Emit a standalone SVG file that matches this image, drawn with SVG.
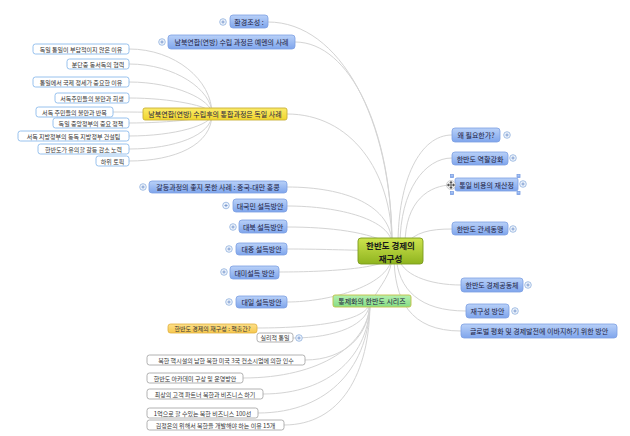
<svg xmlns="http://www.w3.org/2000/svg" xmlns:xlink="http://www.w3.org/1999/xlink" width="630" height="436" viewBox="0 0 630 436">
<defs>
<linearGradient id="gb" x1="0" y1="0" x2="0" y2="1"><stop offset="0" stop-color="#b9d1f8"/><stop offset="1" stop-color="#7fa5ec"/></linearGradient>
<linearGradient id="gc" x1="0" y1="0" x2="0" y2="1"><stop offset="0" stop-color="#cde34e"/><stop offset="1" stop-color="#8fb41f"/></linearGradient>
<linearGradient id="gy" x1="0" y1="0" x2="0" y2="1"><stop offset="0" stop-color="#fbeb6a"/><stop offset="1" stop-color="#f0d52c"/></linearGradient>
<linearGradient id="gg" x1="0" y1="0" x2="0" y2="1"><stop offset="0" stop-color="#b4f0b0"/><stop offset="1" stop-color="#86dc84"/></linearGradient>
<linearGradient id="go" x1="0" y1="0" x2="0" y2="1"><stop offset="0" stop-color="#fde08a"/><stop offset="1" stop-color="#f6c84e"/></linearGradient>
<g id="plus"><circle r="3.3" fill="#eef4fc" stroke="#8fb0dd" stroke-width="0.8"/><path d="M-1.6,0H1.6M0,-1.6V1.6" stroke="#6d8fca" stroke-width="0.8"/></g>
</defs>
<style>
text{font-family:"Noto Sans CJK KR","Noto Sans",sans-serif;font-size:7px;text-anchor:middle;dominant-baseline:central;fill:#1d2140}
.b rect{fill:url(#gb);stroke:#7c9fe2;stroke-width:0.8}
.w rect{fill:#fff;stroke:#8dbbec;stroke-width:0.9}
.g rect{fill:#fff;stroke:#a9a9a9;stroke-width:0.9}
.g text,.w text{fill:#333}
#conn path{fill:none;stroke:#d4d4d4;stroke-width:1}
</style>
<rect width="630" height="436" fill="#fff"/>
<g id="conn">
<path d="M268,22 C340,22 392,120 392,245"/>
<path d="M295,42 C350,42 392,130 392,245"/>
<path d="M287,114 C350,114 392,170 392,245"/>
<path d="M287,187 C345,187 392,205 392,245"/>
<path d="M287,206 C340,206 392,220 392,245"/>
<path d="M287,227 C330,227 370,232 392,245"/>
<path d="M287,249 C320,249 340,250 392,251"/>
<path d="M279,272 C330,272 392,268 392,255"/>
<path d="M287,302 C330,302 392,285 392,255"/>
<path d="M372,301 C380,285 392,275 392,255"/>
<path d="M452,135 C420,135 398,180 398,245"/>
<path d="M452,158 C425,158 400,190 400,245"/>
<path d="M452,185 C430,185 405,200 405,245"/>
<path d="M452,229 C430,229 415,232 405,245"/>
<path d="M461,285 C430,285 400,275 398,255"/>
<path d="M466,311 C420,311 398,290 396,255"/>
<path d="M461,331 C410,331 394,300 394,255"/>
<path d="M129,49 C175,49 212,80 212,114"/>
<path d="M129,64 C175,64 212,90 212,114"/>
<path d="M129,82 C175,82 212,100 212,114"/>
<path d="M129,98 C170,98 212,106 212,114"/>
<path d="M113,112 C160,112 190,113 212,114"/>
<path d="M129,123 C170,123 212,118 212,114"/>
<path d="M129,136 C175,136 212,125 212,114"/>
<path d="M129,149 C175,149 212,135 212,114"/>
<path d="M129,161 C175,161 212,145 212,114"/>
<path d="M257,328 C320,328 370,320 370,301"/>
<path d="M293,338 C335,338 370,325 370,301"/>
<path d="M305,360 C345,360 370,335 370,301"/>
<path d="M243,378 C320,378 370,345 370,301"/>
<path d="M263,394 C330,394 370,355 370,301"/>
<path d="M258,413 C330,413 370,365 370,301"/>
<path d="M284,425 C340,425 370,375 370,301"/>
</g>
<g id="n-center"><rect x="358" y="238" width="65" height="26" rx="3" fill="url(#gc)" stroke="#7c9b1d" stroke-width="0.9"/><text x="390.5" y="244.5" style="font-size:8.5px;font-weight:bold;fill:#1a1a1a">한반도 경제의</text><text x="390.5" y="257.5" style="font-size:8.5px;font-weight:bold;fill:#1a1a1a">재구성</text></g>
<g id="n1" class="b"><rect x="230" y="15" width="38" height="13" rx="3"/><text x="249" y="21.5">환경조성 :</text><use href="#plus" x="223" y="22"/></g>
<g id="n2" class="b"><rect x="168" y="35" width="127" height="14" rx="3"/><text x="231.5" y="42">남북연합(연방) 수립 과정은 예멘의 사례</text><use href="#plus" x="162" y="42"/></g>
<g id="n3"><rect x="143" y="108" width="144" height="12" rx="2" fill="url(#gy)" stroke="#c8b035" stroke-width="0.9"/><text x="215" y="114">남북연합(연방) 수립후의 통합과정은 독일 사례</text></g>
<g id="n3a" class="w"><rect x="33" y="44" width="96" height="10" rx="2.5"/><text x="81" y="49" style="font-size:6px">독일 통일이 부담적이지 않은 이유</text></g>
<g id="n3b" class="w"><rect x="67" y="59" width="62" height="10" rx="2.5"/><text x="98" y="64" style="font-size:6px">분단중 동서독의 협력</text></g>
<g id="n3c" class="w"><rect x="33" y="77" width="96" height="10" rx="2.5"/><text x="81" y="82" style="font-size:6px">통일에서 국제 정세가 중요한 이유</text></g>
<g id="n3d" class="w"><rect x="55" y="93" width="74" height="10" rx="2.5"/><text x="92" y="98" style="font-size:6px">서독주민들의 불만과 희생</text></g>
<g id="n3e" class="w"><rect x="36" y="107" width="77" height="10" rx="2.5"/><text x="74.5" y="112" style="font-size:6px">서독 주민들의 불만과 반목</text></g>
<g id="n3f" class="w"><rect x="53" y="118" width="76" height="10" rx="2.5"/><text x="91" y="123" style="font-size:6px">독일 중앙정부의 중요 정책</text></g>
<g id="n3g" class="w"><rect x="18" y="131" width="111" height="10" rx="2.5"/><text x="73.5" y="136" style="font-size:6px">서독 지방정부의 동독 지방정부 건설팀</text></g>
<g id="n3h" class="w"><rect x="38" y="144" width="91" height="10" rx="2.5"/><text x="83.5" y="149" style="font-size:6px">한반도가 유의할 갈등 감소 노력</text></g>
<g id="n3i" class="w"><rect x="96" y="156" width="33" height="10" rx="2.5"/><text x="112.5" y="161" style="font-size:6px">하위 토픽</text></g>
<g id="n4" class="b"><rect x="149" y="181" width="138" height="12" rx="3"/><text x="218" y="187">갈등과정의 좋지 못한 사례 : 중국-대만 홍콩</text><use href="#plus" x="143" y="187"/></g>
<g id="n5" class="b"><rect x="233" y="199" width="54" height="13" rx="3"/><text x="260" y="205.5">대국민 설득방안</text><use href="#plus" x="226" y="205.5"/></g>
<g id="n6" class="b"><rect x="239" y="220" width="48" height="13" rx="3"/><text x="263" y="226.5">대북 설득방안</text><use href="#plus" x="233" y="227"/></g>
<g id="n7" class="b"><rect x="236" y="243" width="51" height="12" rx="3"/><text x="261.5" y="249">대중 설득방안</text><use href="#plus" x="229" y="249"/></g>
<g id="n8" class="b"><rect x="230" y="266" width="49" height="13" rx="3"/><text x="254.5" y="272.5">대미설득 방안</text><use href="#plus" x="224" y="272"/></g>
<g id="n9" class="b"><rect x="236" y="296" width="51" height="12" rx="3"/><text x="261.5" y="302">대일 설득방안</text><use href="#plus" x="229" y="302"/></g>
<g id="n10"><rect x="333" y="295" width="78" height="12" rx="2" fill="url(#gg)" stroke="#c2c045" stroke-width="0.9"/><text x="372" y="301">통제화의 한반도 시리즈</text></g>
<g id="n10a"><rect x="168" y="324" width="89" height="9" rx="2.5" fill="url(#go)" stroke="#dfae3c" stroke-width="0.8"/><text x="212.5" y="328.5" style="font-size:6px;fill:#333">한반도 경제의 재구성 : 책출간?</text></g>
<g id="n10b" class="g"><rect x="257" y="333" width="36" height="9" rx="2.5"/><text x="275" y="337.5" style="font-size:6px">실리적 통일</text><use href="#plus" x="299" y="338"/></g>
<g id="n10c" class="g"><rect x="147" y="355" width="158" height="10" rx="2.5"/><text x="226" y="360" style="font-size:6px">북한 핵시설의 남한 북한 미국 3국 컨소시엄에 의한 인수</text></g>
<g id="n10d" class="g"><rect x="147" y="373" width="96" height="10" rx="2.5"/><text x="195" y="378" style="font-size:6px">한반도 아카데미 구상 및 운영방안</text></g>
<g id="n10e" class="g"><rect x="147" y="389" width="116" height="10" rx="2.5"/><text x="205" y="394" style="font-size:6px">최상의 고객 파트너 북한과 비즈니스 하기</text></g>
<g id="n10f" class="g"><rect x="147" y="408" width="111" height="10" rx="2.5"/><text x="202.5" y="413" style="font-size:6px">1억으로 할 수있는 북한 비즈니스 100선</text></g>
<g id="n10g" class="g"><rect x="147" y="420" width="137" height="10" rx="2.5"/><text x="215.5" y="425" style="font-size:6px">김정은의 위해서 북한을 개발해야 하는 이유 15개</text></g>
<g id="n11" class="b"><rect x="452" y="128" width="48" height="14" rx="3"/><text x="476" y="135">왜  필요한가?</text><use href="#plus" x="507" y="135"/></g>
<g id="n12" class="b"><rect x="452" y="152" width="56" height="13" rx="3"/><text x="480" y="158.5">한반도 역할강화</text><use href="#plus" x="513" y="158"/></g>
<g id="n13" class="b"><rect x="455" y="178" width="63" height="13" rx="2"/><text x="486.5" y="184.5">통일 비용의 재산정</text><use href="#plus" x="523" y="184"/>
<g fill="#fff" stroke="#999" stroke-width="0.6"><rect x="450.5" y="174.5" width="3" height="3"/><rect x="517" y="174.5" width="3" height="3"/><rect x="450.5" y="191.5" width="3" height="3"/><rect x="517" y="191.5" width="3" height="3"/></g>
<g transform="translate(451,185)"><circle r="4.5" fill="#f4f4f4" stroke="#aaa" stroke-width="0.5"/><path d="M-3.5,0H3.5M0,-3.5V3.5M-3.5,0l1.3,-1.1v2.2zM3.5,0l-1.3,-1.1v2.2zM0,-3.5l-1.1,1.3h2.2zM0,3.5l-1.1,-1.3h2.2z" stroke="#444" stroke-width="0.7" fill="#444"/></g></g>
<g id="n14" class="b"><rect x="452" y="222" width="56" height="13" rx="3"/><text x="480" y="228.5">한반도 관세동맹</text><use href="#plus" x="513" y="229"/></g>
<g id="n15" class="b"><rect x="461" y="278" width="62" height="14" rx="3"/><text x="492" y="285">한반도 경제공동체</text><use href="#plus" x="528" y="285"/></g>
<g id="n16" class="b"><rect x="466" y="304" width="43" height="14" rx="3"/><text x="487.5" y="311">재구성 방안</text><use href="#plus" x="515" y="311"/></g>
<g id="n17" class="b"><rect x="461" y="324" width="156" height="14" rx="3"/><text x="539" y="331">글로벌 평화 및 경제발전에 이바지하기 위한 방안</text></g>
</svg>
